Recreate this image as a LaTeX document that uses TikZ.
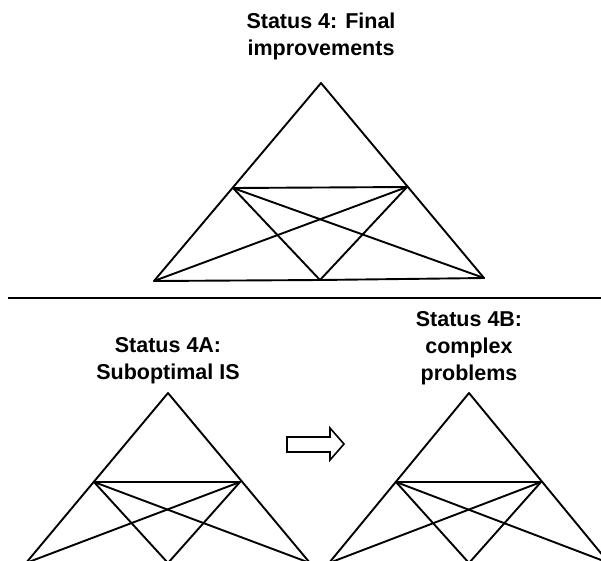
\documentclass[tikz,border=0pt]{standalone}
\usepackage{fontspec}
\setmainfont{Liberation Sans}
\begin{document}
\begin{tikzpicture}[x=1pt,y=-1pt,
  edge/.style={line width=1.9pt, line join=round, line cap=round},
  title/.style={font=\bfseries\fontsize{21.5}{27}\selectfont, align=center, inner sep=0pt, anchor=base},
  blockarrow/.style={line width=1.6pt, line join=miter}]
\useasboundingbox (0,0) rectangle (601,560);
\clip (0,0) rectangle (601,560);
% titles (base anchor = baseline of last line)
\node[title] (t4) at (321,55) {Status 4: Final\\improvements};
\node[title] (t4a) at (168,379) {Status 4A:\\Suboptimal IS};
\node[title] (t4b) at (469,380) {Status 4B:\\complex\\problems};
% separator
\coordinate (sepL) at (8,298);
\coordinate (sepR) at (601,298);
\draw[line width=1.9pt] (sepL) -- (sepR);
% top triangle
\coordinate (aA) at (321,83);
\coordinate (aBL) at (154,281);
\coordinate (aBR) at (484,278);
\coordinate (aBM) at (320,280);
\coordinate (aML) at (233,188);
\coordinate (aMR) at (407,187);
\draw[edge] (aBL) -- (aA) -- (aBR) -- (aBM) -- (aBL);
\draw[edge] (aML) -- (aMR);
\draw[edge] (aML) -- (aBM) -- (aMR);
\draw[edge] (aML) -- (aBR);
\draw[edge] (aMR) -- (aBL);
% bottom-left triangle
\coordinate (bA) at (168,393);
\coordinate (bBL) at (26,563);
\coordinate (bBR) at (310,563);
\coordinate (bBM) at (168,563);
\coordinate (bML) at (94,482);
\coordinate (bMR) at (240,482);
\draw[edge] (bBL) -- (bA) -- (bBR) -- (bBM) -- (bBL);
\draw[edge] (bML) -- (bMR);
\draw[edge] (bML) -- (bBM) -- (bMR);
\draw[edge] (bML) -- (bBR);
\draw[edge] (bMR) -- (bBL);
% bottom-right triangle
\coordinate (cA) at (469,393);
\coordinate (cBL) at (329,563);
\coordinate (cBR) at (609,563);
\coordinate (cBM) at (469,563);
\coordinate (cML) at (396,482);
\coordinate (cMR) at (541,482);
\draw[edge] (cBL) -- (cA) -- (cBR) -- (cBM) -- (cBL);
\draw[edge] (cML) -- (cMR);
\draw[edge] (cML) -- (cBM) -- (cMR);
\draw[edge] (cML) -- (cBR);
\draw[edge] (cMR) -- (cBL);
% block arrow
\draw[blockarrow] (287,437) -- (330,437) -- (330,428) -- (344,444) -- (330,460) -- (330,452) -- (287,452) -- cycle;
\end{tikzpicture}
\end{document}
